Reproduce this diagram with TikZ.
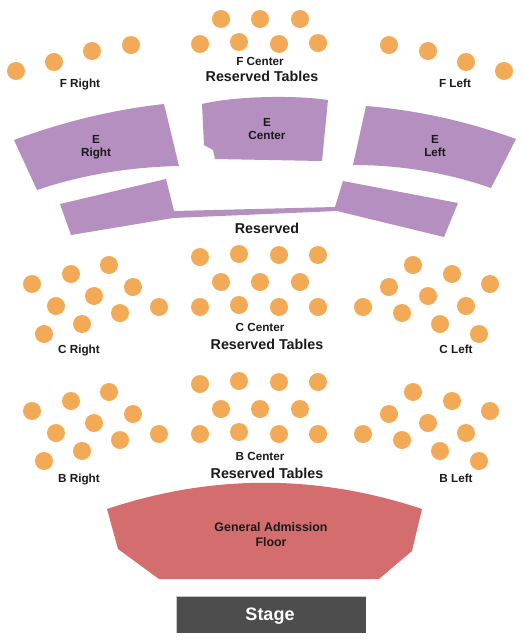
\documentclass[tikz,border=0pt]{standalone}
\usepackage{fontspec}
\setmainfont{Liberation Sans}
\definecolor{dotc}{HTML}{F2AA56}
\definecolor{purp}{HTML}{B48FBF}
\definecolor{redc}{HTML}{D46E6E}
\definecolor{stagec}{HTML}{4D4D4D}
\definecolor{inkc}{HTML}{1A1A1A}
\tikzset{
  tablec/.style={circle,fill=dotc,draw=none,inner sep=0pt,minimum size=18pt},
  seclabel/.style={inner sep=0pt,text=inkc,align=center,font=\bfseries\fontsize{11.7}{13}\selectfont},
  biglabel/.style={inner sep=0pt,text=inkc,align=center,font=\bfseries\fontsize{14.3}{16}\selectfont},
  purpsec/.style={fill=purp,draw=none},
}
\begin{document}
\begin{tikzpicture}[x=1pt,y=-1pt]
\useasboundingbox (0,0) rectangle (525,640);
% tables, row F
\foreach \px/\py [count=\i] in {16/71,54/62,92/51,131/45,200/44,239/42,279/44,318/43,221/19,260/19,300/19,389/45,428/51,466/62,504/71}
  \node[tablec] (f\i) at (\px,\py) {};
% tables, rows C and B
\foreach \off/\rw in {0/c,127/b}{
  \foreach \px/\py [count=\i] in {32/284,71/274,109/265,133/287,94/296,56/306,120/313,82/324,44/334,159/307,
    200/257,239/254,279/255,318/255,221/282,260/282,300/282,200/307,239/305,279/307,318/307,
    363/307,389/287,413/265,452/274,490/284,428/296,466/306,402/313,440/324,479/334}
    \node[tablec] (\rw\i) at (\px,\py+\off) {};
}
% E sections
\fill[purpsec] (14,140) .. controls (64,121.5) and (114,109.5) .. (164,104) -- (179,166) .. controls (132,167) and (84,174) .. (37,190) -- cycle;
\fill[purpsec] (202,104) .. controls (235,96) and (295,95) .. (328,100) -- (322,161) -- (215,159) -- (213,150) -- (204,145) -- cycle;
\fill[purpsec] (366,106) .. controls (416,110) and (466,121) .. (516,139) -- (491,188) .. controls (445,172) and (399,165) .. (353,165) -- cycle;
% Reserved
\fill[purpsec] (60,204) -- (166,179) -- (174,211) -- (335,207) -- (343,181) -- (458,203) -- (444,237) -- (337,211) -- (173,218) -- (71,235) -- cycle;
% General admission floor
\fill[redc] (107,509) .. controls (212,474) and (317,474) .. (422,509) -- (412,551) -- (379,579) -- (159,579) -- (118,549) -- cycle;
% Stage
\fill[stagec] (176,596) rectangle (366,633);
\draw[gray!45,line width=0.7pt] (176,633) -- (176,596) -- (366,596);
% labels
\node[seclabel] (lfr) at (80,84) {F Right};
\node[seclabel] (lfc) at (260,61.5) {F Center};
\node[biglabel] (lfrt) at (262,76) {Reserved Tables};
\node[seclabel] (lfl) at (455,83) {F Left};
\node[seclabel] (ler) at (96,147) {E\\Right};
\node[seclabel] (lec) at (267,129) {E\\Center};
\node[seclabel] (lel) at (435,146) {E\\Left};
\node[biglabel] (lres) at (267,228) {Reserved};
\node[seclabel] (lcr) at (79,350) {C Right};
\node[seclabel] (lcc) at (260,327.5) {C Center};
\node[biglabel] (lcrt) at (267,344) {Reserved Tables};
\node[seclabel] (lcl) at (456,349) {C Left};
\node[seclabel] (lbr) at (79,479) {B Right};
\node[seclabel] (lbc) at (260,456.5) {B Center};
\node[biglabel] (lbrt) at (267,473) {Reserved Tables};
\node[seclabel] (lbl) at (456,478) {B Left};
\node[seclabel,font=\bfseries\fontsize{12.4}{15}\selectfont] (lga) at (271,535) {General Admission\\Floor};
\node[inner sep=0pt,text=white,font=\bfseries\fontsize{18}{20}\selectfont] (lst) at (270,616.5) {Stage};
\end{tikzpicture}
\end{document}
